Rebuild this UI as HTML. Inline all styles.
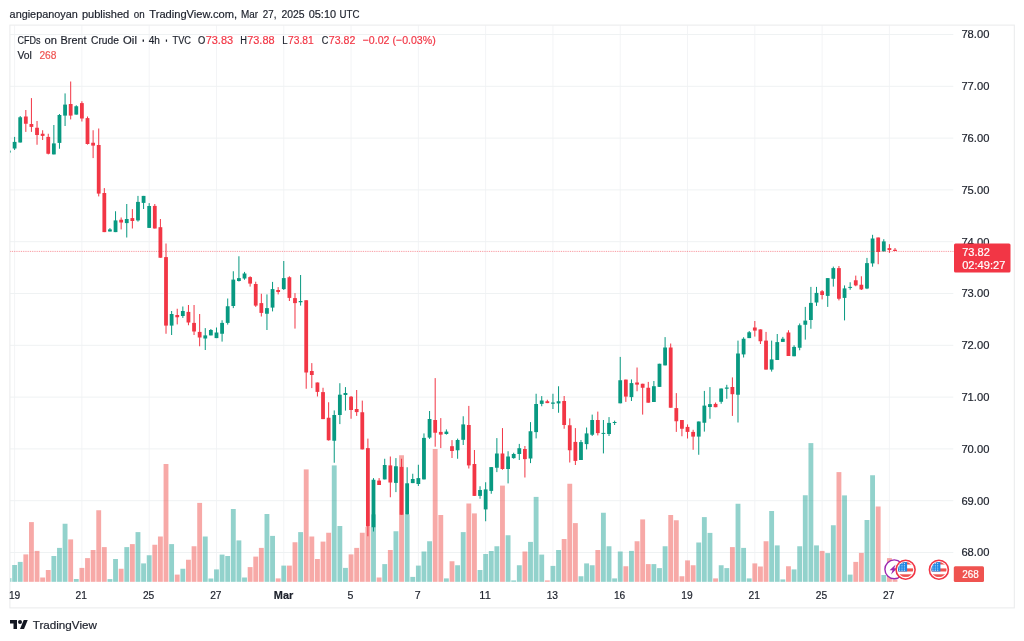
<!DOCTYPE html>
<html lang="en"><head><meta charset="utf-8"><title>CFDs on Brent Crude Oil</title>
<style>html,body{margin:0;padding:0;background:#fff;}svg{display:block;}text{font-family:"Liberation Sans",Arial,sans-serif;stroke-width:.2px;}.d{fill:#1c202b;stroke:#1c202b;}.r{fill:#f23645;stroke:#f23645;}.w{fill:#fff;stroke:#fff;}.v{fill:#ef5350;stroke:#ef5350;}</style></head><body>
<svg width="1024" height="641" viewBox="0 0 1024 641">
<rect width="1024" height="641" fill="#fff"/>
<defs><clipPath id="plot"><rect x="10.25" y="25.50" width="943.25" height="556.70"/></clipPath>
<clipPath id="f1"><circle cx="905.6" cy="569.7" r="7.6"/></clipPath><clipPath id="f2"><circle cx="938.9" cy="569.7" r="7.6"/></clipPath></defs>
<g stroke="#eff2f3" stroke-width="1"><line x1="14.60" y1="25.5" x2="14.60" y2="582" stroke="#f3f4f6"/><line x1="81.89" y1="25.5" x2="81.89" y2="582" stroke="#f3f4f6"/><line x1="149.18" y1="25.5" x2="149.18" y2="582" stroke="#f3f4f6"/><line x1="216.48" y1="25.5" x2="216.48" y2="582" stroke="#f3f4f6"/><line x1="283.77" y1="25.5" x2="283.77" y2="582" stroke="#f3f4f6"/><line x1="351.06" y1="25.5" x2="351.06" y2="582" stroke="#f3f4f6"/><line x1="418.35" y1="25.5" x2="418.35" y2="582" stroke="#f3f4f6"/><line x1="485.65" y1="25.5" x2="485.65" y2="582" stroke="#f3f4f6"/><line x1="552.94" y1="25.5" x2="552.94" y2="582" stroke="#f3f4f6"/><line x1="620.23" y1="25.5" x2="620.23" y2="582" stroke="#f3f4f6"/><line x1="687.52" y1="25.5" x2="687.52" y2="582" stroke="#f3f4f6"/><line x1="754.82" y1="25.5" x2="754.82" y2="582" stroke="#f3f4f6"/><line x1="822.11" y1="25.5" x2="822.11" y2="582" stroke="#f3f4f6"/><line x1="889.40" y1="25.5" x2="889.40" y2="582" stroke="#f3f4f6"/><line x1="10.2" y1="552.50" x2="953.3" y2="552.50"/><line x1="10.2" y1="500.70" x2="953.3" y2="500.70"/><line x1="10.2" y1="448.90" x2="953.3" y2="448.90"/><line x1="10.2" y1="397.10" x2="953.3" y2="397.10"/><line x1="10.2" y1="345.30" x2="953.3" y2="345.30"/><line x1="10.2" y1="293.50" x2="953.3" y2="293.50"/><line x1="10.2" y1="241.70" x2="953.3" y2="241.70"/><line x1="10.2" y1="189.90" x2="953.3" y2="189.90"/><line x1="10.2" y1="138.10" x2="953.3" y2="138.10"/><line x1="10.2" y1="86.30" x2="953.3" y2="86.30"/><line x1="10.2" y1="34.50" x2="953.3" y2="34.50"/></g>
<rect x="9.9" y="25.1" width="1004.4" height="582.8" fill="none" stroke="#e9eaec" stroke-width="1"/>
<g clip-path="url(#plot)"><rect x="6.57" y="578.1" width="4.85" height="3.70" fill="rgba(38,166,154,0.5)"/><rect x="12.18" y="565.00" width="4.85" height="16.80" fill="rgba(38,166,154,0.5)"/><rect x="17.78" y="561.90" width="4.85" height="19.90" fill="rgba(38,166,154,0.5)"/><rect x="23.39" y="554.40" width="4.85" height="27.40" fill="rgba(239,83,80,0.5)"/><rect x="29.00" y="522.10" width="4.85" height="59.70" fill="rgba(239,83,80,0.5)"/><rect x="34.61" y="550.90" width="4.85" height="30.90" fill="rgba(239,83,80,0.5)"/><rect x="40.21" y="577.50" width="4.85" height="4.30" fill="rgba(239,83,80,0.5)"/><rect x="45.82" y="570.00" width="4.85" height="11.80" fill="rgba(239,83,80,0.5)"/><rect x="51.43" y="556.00" width="4.85" height="25.80" fill="rgba(38,166,154,0.5)"/><rect x="57.04" y="547.90" width="4.85" height="33.90" fill="rgba(38,166,154,0.5)"/><rect x="62.64" y="523.75" width="4.85" height="58.05" fill="rgba(38,166,154,0.5)"/><rect x="68.25" y="539.40" width="4.85" height="42.40" fill="rgba(239,83,80,0.5)"/><rect x="73.86" y="579.00" width="4.85" height="2.80" fill="rgba(38,166,154,0.5)"/><rect x="79.47" y="567.90" width="4.85" height="13.90" fill="rgba(239,83,80,0.5)"/><rect x="85.08" y="558.10" width="4.85" height="23.70" fill="rgba(239,83,80,0.5)"/><rect x="90.68" y="550.00" width="4.85" height="31.80" fill="rgba(239,83,80,0.5)"/><rect x="96.29" y="510.25" width="4.85" height="71.55" fill="rgba(239,83,80,0.5)"/><rect x="101.90" y="547.10" width="4.85" height="34.70" fill="rgba(239,83,80,0.5)"/><rect x="107.51" y="579.10" width="4.85" height="2.70" fill="rgba(38,166,154,0.5)"/><rect x="113.11" y="559.00" width="4.85" height="22.80" fill="rgba(38,166,154,0.5)"/><rect x="118.72" y="568.75" width="4.85" height="13.05" fill="rgba(239,83,80,0.5)"/><rect x="124.33" y="547.10" width="4.85" height="34.70" fill="rgba(38,166,154,0.5)"/><rect x="129.94" y="544.10" width="4.85" height="37.70" fill="rgba(239,83,80,0.5)"/><rect x="135.54" y="532.10" width="4.85" height="49.70" fill="rgba(38,166,154,0.5)"/><rect x="141.15" y="563.40" width="4.85" height="18.40" fill="rgba(38,166,154,0.5)"/><rect x="146.76" y="555.25" width="4.85" height="26.55" fill="rgba(38,166,154,0.5)"/><rect x="152.37" y="544.75" width="4.85" height="37.05" fill="rgba(239,83,80,0.5)"/><rect x="157.98" y="536.50" width="4.85" height="45.30" fill="rgba(239,83,80,0.5)"/><rect x="163.58" y="464.00" width="4.85" height="117.80" fill="rgba(239,83,80,0.5)"/><rect x="169.19" y="544.10" width="4.85" height="37.70" fill="rgba(38,166,154,0.5)"/><rect x="174.80" y="574.60" width="4.85" height="7.20" fill="rgba(239,83,80,0.5)"/><rect x="180.41" y="568.75" width="4.85" height="13.05" fill="rgba(38,166,154,0.5)"/><rect x="186.01" y="559.75" width="4.85" height="22.05" fill="rgba(239,83,80,0.5)"/><rect x="191.62" y="546.25" width="4.85" height="35.55" fill="rgba(239,83,80,0.5)"/><rect x="197.23" y="502.90" width="4.85" height="78.90" fill="rgba(239,83,80,0.5)"/><rect x="202.84" y="536.50" width="4.85" height="45.30" fill="rgba(38,166,154,0.5)"/><rect x="208.44" y="578.50" width="4.85" height="3.30" fill="rgba(38,166,154,0.5)"/><rect x="214.05" y="569.40" width="4.85" height="12.40" fill="rgba(38,166,154,0.5)"/><rect x="219.66" y="554.60" width="4.85" height="27.20" fill="rgba(38,166,154,0.5)"/><rect x="225.27" y="556.00" width="4.85" height="25.80" fill="rgba(38,166,154,0.5)"/><rect x="230.88" y="509.00" width="4.85" height="72.80" fill="rgba(38,166,154,0.5)"/><rect x="236.48" y="540.40" width="4.85" height="41.40" fill="rgba(38,166,154,0.5)"/><rect x="242.09" y="577.50" width="4.85" height="4.30" fill="rgba(38,166,154,0.5)"/><rect x="247.70" y="567.10" width="4.85" height="14.70" fill="rgba(239,83,80,0.5)"/><rect x="253.31" y="556.60" width="4.85" height="25.20" fill="rgba(239,83,80,0.5)"/><rect x="258.91" y="547.90" width="4.85" height="33.90" fill="rgba(239,83,80,0.5)"/><rect x="264.52" y="514.00" width="4.85" height="67.80" fill="rgba(38,166,154,0.5)"/><rect x="270.13" y="535.90" width="4.85" height="45.90" fill="rgba(38,166,154,0.5)"/><rect x="275.74" y="578.40" width="4.85" height="3.40" fill="rgba(239,83,80,0.5)"/><rect x="281.34" y="565.60" width="4.85" height="16.20" fill="rgba(38,166,154,0.5)"/><rect x="286.95" y="565.60" width="4.85" height="16.20" fill="rgba(239,83,80,0.5)"/><rect x="292.56" y="542.25" width="4.85" height="39.55" fill="rgba(239,83,80,0.5)"/><rect x="298.17" y="532.10" width="4.85" height="49.70" fill="rgba(38,166,154,0.5)"/><rect x="303.78" y="469.40" width="4.85" height="112.40" fill="rgba(239,83,80,0.5)"/><rect x="309.38" y="536.50" width="4.85" height="45.30" fill="rgba(239,83,80,0.5)"/><rect x="314.99" y="559.00" width="4.85" height="22.80" fill="rgba(239,83,80,0.5)"/><rect x="320.60" y="541.60" width="4.85" height="40.20" fill="rgba(239,83,80,0.5)"/><rect x="326.21" y="532.75" width="4.85" height="49.05" fill="rgba(239,83,80,0.5)"/><rect x="331.81" y="465.40" width="4.85" height="116.40" fill="rgba(38,166,154,0.5)"/><rect x="337.42" y="526.00" width="4.85" height="55.80" fill="rgba(38,166,154,0.5)"/><rect x="343.03" y="567.90" width="4.85" height="13.90" fill="rgba(38,166,154,0.5)"/><rect x="348.64" y="554.40" width="4.85" height="27.40" fill="rgba(239,83,80,0.5)"/><rect x="354.24" y="547.90" width="4.85" height="33.90" fill="rgba(239,83,80,0.5)"/><rect x="359.85" y="532.75" width="4.85" height="49.05" fill="rgba(239,83,80,0.5)"/><rect x="365.46" y="526.90" width="4.85" height="54.90" fill="rgba(239,83,80,0.5)"/><rect x="371.07" y="514.40" width="4.85" height="67.40" fill="rgba(38,166,154,0.5)"/><rect x="376.68" y="577.50" width="4.85" height="4.30" fill="rgba(239,83,80,0.5)"/><rect x="382.28" y="564.10" width="4.85" height="17.70" fill="rgba(38,166,154,0.5)"/><rect x="387.89" y="550.00" width="4.85" height="31.80" fill="rgba(239,83,80,0.5)"/><rect x="393.50" y="531.25" width="4.85" height="50.55" fill="rgba(38,166,154,0.5)"/><rect x="399.11" y="455.25" width="4.85" height="126.55" fill="rgba(239,83,80,0.5)"/><rect x="404.71" y="514.40" width="4.85" height="67.40" fill="rgba(38,166,154,0.5)"/><rect x="410.32" y="576.90" width="4.85" height="4.90" fill="rgba(38,166,154,0.5)"/><rect x="415.93" y="565.60" width="4.85" height="16.20" fill="rgba(38,166,154,0.5)"/><rect x="421.54" y="551.50" width="4.85" height="30.30" fill="rgba(38,166,154,0.5)"/><rect x="427.14" y="541.25" width="4.85" height="40.55" fill="rgba(38,166,154,0.5)"/><rect x="432.75" y="449.00" width="4.85" height="132.80" fill="rgba(239,83,80,0.5)"/><rect x="438.36" y="515.00" width="4.85" height="66.80" fill="rgba(239,83,80,0.5)"/><rect x="443.97" y="578.40" width="4.85" height="3.40" fill="rgba(38,166,154,0.5)"/><rect x="449.58" y="561.25" width="4.85" height="20.55" fill="rgba(239,83,80,0.5)"/><rect x="455.18" y="565.25" width="4.85" height="16.55" fill="rgba(38,166,154,0.5)"/><rect x="460.79" y="532.10" width="4.85" height="49.70" fill="rgba(38,166,154,0.5)"/><rect x="466.40" y="503.50" width="4.85" height="78.30" fill="rgba(239,83,80,0.5)"/><rect x="472.01" y="513.40" width="4.85" height="68.40" fill="rgba(239,83,80,0.5)"/><rect x="477.61" y="570.00" width="4.85" height="11.80" fill="rgba(38,166,154,0.5)"/><rect x="483.22" y="554.00" width="4.85" height="27.80" fill="rgba(38,166,154,0.5)"/><rect x="488.83" y="551.00" width="4.85" height="30.80" fill="rgba(38,166,154,0.5)"/><rect x="494.44" y="546.25" width="4.85" height="35.55" fill="rgba(38,166,154,0.5)"/><rect x="500.04" y="485.60" width="4.85" height="96.20" fill="rgba(239,83,80,0.5)"/><rect x="505.65" y="535.25" width="4.85" height="46.55" fill="rgba(38,166,154,0.5)"/><rect x="511.26" y="580.40" width="4.85" height="1.40" fill="rgba(38,166,154,0.5)"/><rect x="516.87" y="565.25" width="4.85" height="16.55" fill="rgba(38,166,154,0.5)"/><rect x="522.48" y="551.50" width="4.85" height="30.30" fill="rgba(239,83,80,0.5)"/><rect x="528.08" y="541.90" width="4.85" height="39.90" fill="rgba(38,166,154,0.5)"/><rect x="533.69" y="496.90" width="4.85" height="84.90" fill="rgba(38,166,154,0.5)"/><rect x="539.30" y="554.60" width="4.85" height="27.20" fill="rgba(38,166,154,0.5)"/><rect x="544.91" y="580.40" width="4.85" height="1.40" fill="rgba(239,83,80,0.5)"/><rect x="550.51" y="565.90" width="4.85" height="15.90" fill="rgba(38,166,154,0.5)"/><rect x="556.12" y="550.00" width="4.85" height="31.80" fill="rgba(38,166,154,0.5)"/><rect x="561.73" y="539.00" width="4.85" height="42.80" fill="rgba(239,83,80,0.5)"/><rect x="567.34" y="483.75" width="4.85" height="98.05" fill="rgba(239,83,80,0.5)"/><rect x="572.95" y="523.10" width="4.85" height="58.70" fill="rgba(239,83,80,0.5)"/><rect x="578.55" y="576.25" width="4.85" height="5.55" fill="rgba(38,166,154,0.5)"/><rect x="584.16" y="563.40" width="4.85" height="18.40" fill="rgba(38,166,154,0.5)"/><rect x="589.77" y="565.25" width="4.85" height="16.55" fill="rgba(38,166,154,0.5)"/><rect x="595.38" y="550.00" width="4.85" height="31.80" fill="rgba(239,83,80,0.5)"/><rect x="600.98" y="512.75" width="4.85" height="69.05" fill="rgba(38,166,154,0.5)"/><rect x="606.59" y="546.25" width="4.85" height="35.55" fill="rgba(38,166,154,0.5)"/><rect x="612.20" y="578.40" width="4.85" height="3.40" fill="rgba(38,166,154,0.5)"/><rect x="617.81" y="551.50" width="4.85" height="30.30" fill="rgba(38,166,154,0.5)"/><rect x="623.41" y="566.25" width="4.85" height="15.55" fill="rgba(239,83,80,0.5)"/><rect x="629.02" y="550.90" width="4.85" height="30.90" fill="rgba(38,166,154,0.5)"/><rect x="634.63" y="541.25" width="4.85" height="40.55" fill="rgba(239,83,80,0.5)"/><rect x="640.24" y="519.40" width="4.85" height="62.40" fill="rgba(239,83,80,0.5)"/><rect x="645.85" y="564.10" width="4.85" height="17.70" fill="rgba(239,83,80,0.5)"/><rect x="651.45" y="564.10" width="4.85" height="17.70" fill="rgba(38,166,154,0.5)"/><rect x="657.06" y="568.10" width="4.85" height="13.70" fill="rgba(38,166,154,0.5)"/><rect x="662.67" y="546.25" width="4.85" height="35.55" fill="rgba(38,166,154,0.5)"/><rect x="668.28" y="515.00" width="4.85" height="66.80" fill="rgba(239,83,80,0.5)"/><rect x="673.88" y="520.25" width="4.85" height="61.55" fill="rgba(239,83,80,0.5)"/><rect x="679.49" y="576.25" width="4.85" height="5.55" fill="rgba(239,83,80,0.5)"/><rect x="685.10" y="560.40" width="4.85" height="21.40" fill="rgba(239,83,80,0.5)"/><rect x="690.71" y="565.25" width="4.85" height="16.55" fill="rgba(239,83,80,0.5)"/><rect x="696.31" y="542.50" width="4.85" height="39.30" fill="rgba(38,166,154,0.5)"/><rect x="701.92" y="517.10" width="4.85" height="64.70" fill="rgba(38,166,154,0.5)"/><rect x="707.53" y="532.90" width="4.85" height="48.90" fill="rgba(38,166,154,0.5)"/><rect x="713.14" y="578.40" width="4.85" height="3.40" fill="rgba(239,83,80,0.5)"/><rect x="718.75" y="565.25" width="4.85" height="16.55" fill="rgba(38,166,154,0.5)"/><rect x="724.35" y="568.10" width="4.85" height="13.70" fill="rgba(38,166,154,0.5)"/><rect x="729.96" y="547.10" width="4.85" height="34.70" fill="rgba(239,83,80,0.5)"/><rect x="735.57" y="503.75" width="4.85" height="78.05" fill="rgba(38,166,154,0.5)"/><rect x="741.18" y="547.90" width="4.85" height="33.90" fill="rgba(38,166,154,0.5)"/><rect x="746.78" y="578.40" width="4.85" height="3.40" fill="rgba(38,166,154,0.5)"/><rect x="752.39" y="563.40" width="4.85" height="18.40" fill="rgba(239,83,80,0.5)"/><rect x="758.00" y="566.50" width="4.85" height="15.30" fill="rgba(239,83,80,0.5)"/><rect x="763.61" y="541.25" width="4.85" height="40.55" fill="rgba(239,83,80,0.5)"/><rect x="769.21" y="511.00" width="4.85" height="70.80" fill="rgba(38,166,154,0.5)"/><rect x="774.82" y="545.40" width="4.85" height="36.40" fill="rgba(38,166,154,0.5)"/><rect x="780.43" y="579.40" width="4.85" height="2.40" fill="rgba(38,166,154,0.5)"/><rect x="786.04" y="566.25" width="4.85" height="15.55" fill="rgba(239,83,80,0.5)"/><rect x="791.65" y="569.40" width="4.85" height="12.40" fill="rgba(38,166,154,0.5)"/><rect x="797.25" y="546.25" width="4.85" height="35.55" fill="rgba(38,166,154,0.5)"/><rect x="802.86" y="495.25" width="4.85" height="86.55" fill="rgba(38,166,154,0.5)"/><rect x="808.47" y="443.10" width="4.85" height="138.70" fill="rgba(38,166,154,0.5)"/><rect x="814.08" y="545.40" width="4.85" height="36.40" fill="rgba(38,166,154,0.5)"/><rect x="819.68" y="550.90" width="4.85" height="30.90" fill="rgba(239,83,80,0.5)"/><rect x="825.29" y="553.10" width="4.85" height="28.70" fill="rgba(38,166,154,0.5)"/><rect x="830.90" y="525.25" width="4.85" height="56.55" fill="rgba(38,166,154,0.5)"/><rect x="836.51" y="472.10" width="4.85" height="109.70" fill="rgba(239,83,80,0.5)"/><rect x="842.11" y="495.40" width="4.85" height="86.40" fill="rgba(38,166,154,0.5)"/><rect x="847.72" y="574.60" width="4.85" height="7.20" fill="rgba(38,166,154,0.5)"/><rect x="853.33" y="561.90" width="4.85" height="19.90" fill="rgba(239,83,80,0.5)"/><rect x="858.94" y="552.90" width="4.85" height="28.90" fill="rgba(239,83,80,0.5)"/><rect x="864.55" y="520.00" width="4.85" height="61.80" fill="rgba(38,166,154,0.5)"/><rect x="870.15" y="475.25" width="4.85" height="106.55" fill="rgba(38,166,154,0.5)"/><rect x="875.76" y="506.50" width="4.85" height="75.30" fill="rgba(239,83,80,0.5)"/><rect x="881.37" y="575.00" width="4.85" height="6.80" fill="rgba(38,166,154,0.5)"/><rect x="886.98" y="558.10" width="4.85" height="23.70" fill="rgba(239,83,80,0.5)"/><rect x="892.58" y="579.40" width="4.85" height="2.40" fill="rgba(239,83,80,0.5)"/></g>
<g clip-path="url(#plot)"><rect x="7.09" y="150.6" width="3.80" height="2" fill="#089981"/><rect x="14.10" y="136.90" width="1.00" height="13.10" fill="#089981"/><rect x="12.70" y="141.90" width="3.80" height="6.60" fill="#089981"/><rect x="19.71" y="116.00" width="1.00" height="26.50" fill="#089981"/><rect x="18.31" y="117.25" width="3.80" height="25.25" fill="#089981"/><rect x="25.32" y="110.00" width="1.00" height="21.90" fill="#f23645"/><rect x="23.92" y="116.50" width="3.80" height="7.25" fill="#f23645"/><rect x="30.92" y="98.10" width="1.00" height="33.80" fill="#f23645"/><rect x="29.52" y="124.00" width="3.80" height="2.90" fill="#f23645"/><rect x="36.53" y="121.00" width="1.00" height="23.75" fill="#f23645"/><rect x="35.13" y="127.75" width="3.80" height="7.25" fill="#f23645"/><rect x="42.14" y="130.25" width="1.00" height="9.75" fill="#f23645"/><rect x="40.74" y="133.75" width="3.80" height="2.15" fill="#f23645"/><rect x="47.75" y="133.75" width="1.00" height="20.65" fill="#f23645"/><rect x="46.35" y="136.90" width="3.80" height="16.85" fill="#f23645"/><rect x="53.35" y="125.00" width="1.00" height="29.40" fill="#089981"/><rect x="51.95" y="143.40" width="3.80" height="11.00" fill="#089981"/><rect x="58.96" y="114.00" width="1.00" height="34.75" fill="#089981"/><rect x="57.56" y="115.00" width="3.80" height="27.90" fill="#089981"/><rect x="64.57" y="93.40" width="1.00" height="32.60" fill="#089981"/><rect x="63.17" y="104.60" width="3.80" height="11.00" fill="#089981"/><rect x="70.18" y="81.50" width="1.00" height="37.90" fill="#f23645"/><rect x="68.78" y="104.00" width="3.80" height="11.60" fill="#f23645"/><rect x="75.78" y="105.25" width="1.00" height="9.35" fill="#089981"/><rect x="74.38" y="106.25" width="3.80" height="8.35" fill="#089981"/><rect x="81.39" y="101.25" width="1.00" height="20.25" fill="#f23645"/><rect x="79.99" y="103.10" width="3.80" height="15.40" fill="#f23645"/><rect x="87.00" y="116.50" width="1.00" height="28.10" fill="#f23645"/><rect x="85.60" y="118.10" width="3.80" height="25.90" fill="#f23645"/><rect x="92.61" y="130.25" width="1.00" height="27.85" fill="#f23645"/><rect x="91.21" y="142.75" width="3.80" height="2.85" fill="#f23645"/><rect x="98.22" y="128.50" width="1.00" height="67.90" fill="#f23645"/><rect x="96.82" y="145.00" width="3.80" height="48.60" fill="#f23645"/><rect x="103.82" y="188.10" width="1.00" height="44.00" fill="#f23645"/><rect x="102.42" y="193.00" width="3.80" height="39.10" fill="#f23645"/><rect x="109.43" y="228.10" width="1.00" height="3.40" fill="#089981"/><rect x="108.03" y="229.40" width="3.80" height="2.10" fill="#089981"/><rect x="115.04" y="211.25" width="1.00" height="20.85" fill="#089981"/><rect x="113.64" y="220.40" width="3.80" height="11.70" fill="#089981"/><rect x="120.65" y="217.50" width="1.00" height="11.90" fill="#f23645"/><rect x="119.25" y="219.75" width="3.80" height="2.75" fill="#f23645"/><rect x="126.25" y="204.00" width="1.00" height="33.50" fill="#089981"/><rect x="124.85" y="219.00" width="3.80" height="4.10" fill="#089981"/><rect x="131.86" y="209.10" width="1.00" height="19.40" fill="#f23645"/><rect x="130.46" y="218.10" width="3.80" height="2.90" fill="#f23645"/><rect x="137.47" y="195.90" width="1.00" height="25.70" fill="#089981"/><rect x="136.07" y="201.90" width="3.80" height="18.50" fill="#089981"/><rect x="143.08" y="195.90" width="1.00" height="13.10" fill="#089981"/><rect x="141.68" y="195.90" width="3.80" height="7.00" fill="#089981"/><rect x="148.68" y="203.10" width="1.00" height="24.80" fill="#089981"/><rect x="147.28" y="206.00" width="3.80" height="21.90" fill="#089981"/><rect x="154.29" y="204.00" width="1.00" height="24.50" fill="#f23645"/><rect x="152.89" y="205.90" width="3.80" height="22.60" fill="#f23645"/><rect x="159.90" y="219.00" width="1.00" height="38.75" fill="#f23645"/><rect x="158.50" y="227.20" width="3.80" height="30.55" fill="#f23645"/><rect x="165.51" y="243.50" width="1.00" height="90.25" fill="#f23645"/><rect x="164.11" y="257.10" width="3.80" height="68.50" fill="#f23645"/><rect x="171.12" y="311.00" width="1.00" height="24.00" fill="#089981"/><rect x="169.72" y="314.00" width="3.80" height="11.60" fill="#089981"/><rect x="176.72" y="308.75" width="1.00" height="15.65" fill="#f23645"/><rect x="175.32" y="315.00" width="3.80" height="2.25" fill="#f23645"/><rect x="182.33" y="306.50" width="1.00" height="11.40" fill="#089981"/><rect x="180.93" y="311.00" width="3.80" height="5.00" fill="#089981"/><rect x="187.94" y="305.00" width="1.00" height="20.25" fill="#f23645"/><rect x="186.54" y="311.90" width="3.80" height="10.60" fill="#f23645"/><rect x="193.55" y="305.00" width="1.00" height="30.00" fill="#f23645"/><rect x="192.15" y="322.90" width="3.80" height="8.60" fill="#f23645"/><rect x="199.15" y="314.00" width="1.00" height="32.25" fill="#f23645"/><rect x="197.75" y="331.90" width="3.80" height="5.60" fill="#f23645"/><rect x="204.76" y="328.10" width="1.00" height="21.90" fill="#089981"/><rect x="203.36" y="335.40" width="3.80" height="3.10" fill="#089981"/><rect x="210.37" y="329.00" width="1.00" height="6.40" fill="#089981"/><rect x="208.97" y="330.00" width="3.80" height="5.40" fill="#089981"/><rect x="215.98" y="327.50" width="1.00" height="10.60" fill="#089981"/><rect x="214.58" y="332.50" width="3.80" height="5.60" fill="#089981"/><rect x="221.58" y="320.25" width="1.00" height="21.35" fill="#089981"/><rect x="220.18" y="322.90" width="3.80" height="10.85" fill="#089981"/><rect x="227.19" y="298.50" width="1.00" height="26.10" fill="#089981"/><rect x="225.79" y="306.25" width="3.80" height="16.65" fill="#089981"/><rect x="232.80" y="271.25" width="1.00" height="36.85" fill="#089981"/><rect x="231.40" y="279.60" width="3.80" height="26.40" fill="#089981"/><rect x="238.41" y="256.25" width="1.00" height="25.25" fill="#089981"/><rect x="237.01" y="278.10" width="3.80" height="2.90" fill="#089981"/><rect x="244.02" y="271.90" width="1.00" height="7.85" fill="#089981"/><rect x="242.62" y="273.50" width="3.80" height="5.00" fill="#089981"/><rect x="249.62" y="276.25" width="1.00" height="10.35" fill="#f23645"/><rect x="248.22" y="277.10" width="3.80" height="6.50" fill="#f23645"/><rect x="255.23" y="281.70" width="1.00" height="25.20" fill="#f23645"/><rect x="253.83" y="284.00" width="3.80" height="21.60" fill="#f23645"/><rect x="260.84" y="293.75" width="1.00" height="22.75" fill="#f23645"/><rect x="259.44" y="303.10" width="3.80" height="9.80" fill="#f23645"/><rect x="266.45" y="294.40" width="1.00" height="35.60" fill="#089981"/><rect x="265.05" y="308.10" width="3.80" height="5.65" fill="#089981"/><rect x="272.05" y="281.90" width="1.00" height="29.50" fill="#089981"/><rect x="270.65" y="289.10" width="3.80" height="18.50" fill="#089981"/><rect x="277.66" y="287.10" width="1.00" height="7.30" fill="#f23645"/><rect x="276.26" y="290.00" width="3.80" height="2.00" fill="#f23645"/><rect x="283.27" y="261.00" width="1.00" height="29.00" fill="#089981"/><rect x="281.87" y="278.10" width="3.80" height="11.00" fill="#089981"/><rect x="288.88" y="276.25" width="1.00" height="24.75" fill="#f23645"/><rect x="287.48" y="277.25" width="3.80" height="20.65" fill="#f23645"/><rect x="294.49" y="293.10" width="1.00" height="35.50" fill="#f23645"/><rect x="293.09" y="298.10" width="3.80" height="5.00" fill="#f23645"/><rect x="300.09" y="275.00" width="1.00" height="30.60" fill="#089981"/><rect x="298.69" y="301.00" width="3.80" height="1.25" fill="#089981"/><rect x="305.70" y="300.25" width="1.00" height="88.50" fill="#f23645"/><rect x="304.30" y="300.25" width="3.80" height="72.25" fill="#f23645"/><rect x="311.31" y="363.10" width="1.00" height="25.00" fill="#f23645"/><rect x="309.91" y="371.00" width="3.80" height="4.00" fill="#f23645"/><rect x="316.92" y="382.50" width="1.00" height="14.00" fill="#f23645"/><rect x="315.52" y="382.50" width="3.80" height="9.40" fill="#f23645"/><rect x="322.52" y="387.75" width="1.00" height="31.35" fill="#f23645"/><rect x="321.12" y="392.10" width="3.80" height="27.00" fill="#f23645"/><rect x="328.13" y="402.25" width="1.00" height="38.35" fill="#f23645"/><rect x="326.73" y="417.75" width="3.80" height="22.50" fill="#f23645"/><rect x="333.74" y="410.40" width="1.00" height="52.35" fill="#089981"/><rect x="332.34" y="415.00" width="3.80" height="25.75" fill="#089981"/><rect x="339.35" y="383.20" width="1.00" height="40.90" fill="#089981"/><rect x="337.95" y="394.70" width="3.80" height="20.30" fill="#089981"/><rect x="344.95" y="387.10" width="1.00" height="23.50" fill="#089981"/><rect x="343.55" y="393.00" width="3.80" height="2.00" fill="#089981"/><rect x="350.56" y="396.00" width="1.00" height="22.75" fill="#f23645"/><rect x="349.16" y="396.70" width="3.80" height="13.30" fill="#f23645"/><rect x="356.17" y="390.00" width="1.00" height="25.90" fill="#f23645"/><rect x="354.77" y="409.00" width="3.80" height="3.10" fill="#f23645"/><rect x="361.78" y="400.60" width="1.00" height="48.80" fill="#f23645"/><rect x="360.38" y="412.25" width="3.80" height="37.15" fill="#f23645"/><rect x="367.39" y="438.60" width="1.00" height="97.65" fill="#f23645"/><rect x="365.99" y="448.10" width="3.80" height="78.40" fill="#f23645"/><rect x="372.99" y="478.10" width="1.00" height="53.40" fill="#089981"/><rect x="371.59" y="479.75" width="3.80" height="47.50" fill="#089981"/><rect x="378.60" y="478.10" width="1.00" height="6.90" fill="#f23645"/><rect x="377.20" y="480.60" width="3.80" height="4.40" fill="#f23645"/><rect x="384.21" y="458.75" width="1.00" height="20.65" fill="#089981"/><rect x="382.81" y="465.00" width="3.80" height="14.40" fill="#089981"/><rect x="389.82" y="456.50" width="1.00" height="40.75" fill="#f23645"/><rect x="388.42" y="465.40" width="3.80" height="17.10" fill="#f23645"/><rect x="395.42" y="458.10" width="1.00" height="34.00" fill="#089981"/><rect x="394.02" y="466.25" width="3.80" height="16.65" fill="#089981"/><rect x="401.03" y="458.75" width="1.00" height="56.00" fill="#f23645"/><rect x="399.63" y="466.90" width="3.80" height="47.85" fill="#f23645"/><rect x="406.64" y="467.25" width="1.00" height="47.15" fill="#089981"/><rect x="405.24" y="483.30" width="3.80" height="31.10" fill="#089981"/><rect x="412.25" y="473.75" width="1.00" height="9.35" fill="#089981"/><rect x="410.85" y="479.00" width="3.80" height="4.10" fill="#089981"/><rect x="417.85" y="464.75" width="1.00" height="21.25" fill="#089981"/><rect x="416.45" y="478.10" width="3.80" height="5.90" fill="#089981"/><rect x="423.46" y="433.40" width="1.00" height="46.00" fill="#089981"/><rect x="422.06" y="437.90" width="3.80" height="41.50" fill="#089981"/><rect x="429.07" y="411.00" width="1.00" height="27.90" fill="#089981"/><rect x="427.67" y="419.00" width="3.80" height="18.60" fill="#089981"/><rect x="434.68" y="378.10" width="1.00" height="68.60" fill="#f23645"/><rect x="433.28" y="420.00" width="3.80" height="12.75" fill="#f23645"/><rect x="440.29" y="418.10" width="1.00" height="30.00" fill="#f23645"/><rect x="438.89" y="431.90" width="3.80" height="2.70" fill="#f23645"/><rect x="445.89" y="429.40" width="1.00" height="5.20" fill="#089981"/><rect x="444.49" y="431.60" width="3.80" height="2.40" fill="#089981"/><rect x="451.50" y="440.10" width="1.00" height="17.90" fill="#f23645"/><rect x="450.10" y="446.20" width="3.80" height="4.80" fill="#f23645"/><rect x="457.11" y="438.60" width="1.00" height="20.15" fill="#089981"/><rect x="455.71" y="440.00" width="3.80" height="10.25" fill="#089981"/><rect x="462.72" y="416.25" width="1.00" height="28.75" fill="#089981"/><rect x="461.32" y="424.40" width="3.80" height="15.40" fill="#089981"/><rect x="468.32" y="405.90" width="1.00" height="62.60" fill="#f23645"/><rect x="466.92" y="425.00" width="3.80" height="40.40" fill="#f23645"/><rect x="473.93" y="450.00" width="1.00" height="45.90" fill="#f23645"/><rect x="472.53" y="464.00" width="3.80" height="31.90" fill="#f23645"/><rect x="479.54" y="486.25" width="1.00" height="12.50" fill="#089981"/><rect x="478.14" y="490.00" width="3.80" height="5.90" fill="#089981"/><rect x="485.15" y="482.25" width="1.00" height="39.00" fill="#089981"/><rect x="483.75" y="489.40" width="3.80" height="20.00" fill="#089981"/><rect x="490.75" y="467.10" width="1.00" height="26.65" fill="#089981"/><rect x="489.35" y="467.10" width="3.80" height="23.80" fill="#089981"/><rect x="496.36" y="438.10" width="1.00" height="34.00" fill="#089981"/><rect x="494.96" y="453.50" width="3.80" height="14.25" fill="#089981"/><rect x="501.97" y="428.10" width="1.00" height="41.65" fill="#f23645"/><rect x="500.57" y="453.50" width="3.80" height="15.50" fill="#f23645"/><rect x="507.58" y="451.25" width="1.00" height="32.15" fill="#089981"/><rect x="506.18" y="456.50" width="3.80" height="12.50" fill="#089981"/><rect x="513.19" y="452.75" width="1.00" height="6.00" fill="#089981"/><rect x="511.79" y="454.00" width="3.80" height="4.10" fill="#089981"/><rect x="518.79" y="443.90" width="1.00" height="16.10" fill="#089981"/><rect x="517.39" y="448.20" width="3.80" height="5.80" fill="#089981"/><rect x="524.40" y="446.00" width="1.00" height="31.50" fill="#f23645"/><rect x="523.00" y="449.00" width="3.80" height="10.10" fill="#f23645"/><rect x="530.01" y="422.10" width="1.00" height="41.00" fill="#089981"/><rect x="528.61" y="431.25" width="3.80" height="27.25" fill="#089981"/><rect x="535.62" y="393.75" width="1.00" height="44.65" fill="#089981"/><rect x="534.22" y="404.00" width="3.80" height="28.10" fill="#089981"/><rect x="541.22" y="396.10" width="1.00" height="10.15" fill="#089981"/><rect x="539.82" y="400.50" width="3.80" height="3.40" fill="#089981"/><rect x="546.83" y="399.75" width="1.00" height="3.35" fill="#f23645"/><rect x="545.43" y="401.25" width="3.80" height="1.85" fill="#f23645"/><rect x="552.44" y="393.75" width="1.00" height="15.25" fill="#089981"/><rect x="551.04" y="402.50" width="3.80" height="1.25" fill="#089981"/><rect x="558.05" y="386.25" width="1.00" height="26.50" fill="#089981"/><rect x="556.65" y="401.25" width="3.80" height="2.15" fill="#089981"/><rect x="563.65" y="396.00" width="1.00" height="32.75" fill="#f23645"/><rect x="562.25" y="401.00" width="3.80" height="24.00" fill="#f23645"/><rect x="569.26" y="418.40" width="1.00" height="44.10" fill="#f23645"/><rect x="567.86" y="425.25" width="3.80" height="25.00" fill="#f23645"/><rect x="574.87" y="428.10" width="1.00" height="36.90" fill="#f23645"/><rect x="573.47" y="441.90" width="3.80" height="19.00" fill="#f23645"/><rect x="580.48" y="440.00" width="1.00" height="20.00" fill="#089981"/><rect x="579.08" y="442.10" width="3.80" height="17.90" fill="#089981"/><rect x="586.09" y="427.50" width="1.00" height="21.90" fill="#089981"/><rect x="584.69" y="433.40" width="3.80" height="10.70" fill="#089981"/><rect x="591.69" y="414.60" width="1.00" height="21.40" fill="#089981"/><rect x="590.29" y="420.00" width="3.80" height="14.75" fill="#089981"/><rect x="597.30" y="411.60" width="1.00" height="23.80" fill="#f23645"/><rect x="595.90" y="420.00" width="3.80" height="13.10" fill="#f23645"/><rect x="602.91" y="420.00" width="1.00" height="33.40" fill="#089981"/><rect x="601.51" y="432.90" width="3.80" height="1.00" fill="#089981"/><rect x="608.52" y="417.10" width="1.00" height="18.90" fill="#089981"/><rect x="607.12" y="422.90" width="3.80" height="11.10" fill="#089981"/><rect x="614.12" y="420.60" width="1.00" height="4.40" fill="#089981"/><rect x="612.72" y="422.00" width="3.80" height="1.00" fill="#089981"/><rect x="619.73" y="356.90" width="1.00" height="46.40" fill="#089981"/><rect x="618.33" y="380.25" width="3.80" height="23.05" fill="#089981"/><rect x="625.34" y="379.60" width="1.00" height="22.30" fill="#f23645"/><rect x="623.94" y="379.60" width="3.80" height="17.00" fill="#f23645"/><rect x="630.95" y="379.40" width="1.00" height="21.60" fill="#089981"/><rect x="629.55" y="383.10" width="3.80" height="14.00" fill="#089981"/><rect x="636.55" y="367.50" width="1.00" height="23.75" fill="#f23645"/><rect x="635.15" y="382.50" width="3.80" height="2.10" fill="#f23645"/><rect x="642.16" y="383.75" width="1.00" height="30.85" fill="#f23645"/><rect x="640.76" y="383.75" width="3.80" height="4.00" fill="#f23645"/><rect x="647.77" y="381.90" width="1.00" height="20.80" fill="#f23645"/><rect x="646.37" y="387.75" width="3.80" height="14.95" fill="#f23645"/><rect x="653.38" y="381.00" width="1.00" height="21.00" fill="#089981"/><rect x="651.98" y="386.20" width="3.80" height="15.80" fill="#089981"/><rect x="658.99" y="363.75" width="1.00" height="23.15" fill="#089981"/><rect x="657.59" y="363.75" width="3.80" height="23.15" fill="#089981"/><rect x="664.59" y="337.10" width="1.00" height="28.30" fill="#089981"/><rect x="663.19" y="347.50" width="3.80" height="17.90" fill="#089981"/><rect x="670.20" y="343.50" width="1.00" height="64.25" fill="#f23645"/><rect x="668.80" y="347.50" width="3.80" height="60.25" fill="#f23645"/><rect x="675.81" y="393.10" width="1.00" height="38.80" fill="#f23645"/><rect x="674.41" y="408.10" width="3.80" height="13.15" fill="#f23645"/><rect x="681.42" y="420.00" width="1.00" height="16.25" fill="#f23645"/><rect x="680.02" y="420.00" width="3.80" height="8.75" fill="#f23645"/><rect x="687.02" y="424.40" width="1.00" height="14.10" fill="#f23645"/><rect x="685.62" y="426.90" width="3.80" height="5.00" fill="#f23645"/><rect x="692.63" y="429.75" width="1.00" height="20.00" fill="#f23645"/><rect x="691.23" y="431.90" width="3.80" height="4.70" fill="#f23645"/><rect x="698.24" y="421.50" width="1.00" height="33.25" fill="#089981"/><rect x="696.84" y="421.50" width="3.80" height="15.10" fill="#089981"/><rect x="703.85" y="390.90" width="1.00" height="40.70" fill="#089981"/><rect x="702.45" y="405.60" width="3.80" height="17.15" fill="#089981"/><rect x="709.45" y="387.10" width="1.00" height="31.65" fill="#089981"/><rect x="708.05" y="404.10" width="3.80" height="2.90" fill="#089981"/><rect x="715.06" y="402.50" width="1.00" height="4.70" fill="#f23645"/><rect x="713.66" y="403.90" width="3.80" height="3.30" fill="#f23645"/><rect x="720.67" y="388.50" width="1.00" height="15.25" fill="#089981"/><rect x="719.27" y="388.50" width="3.80" height="13.30" fill="#089981"/><rect x="726.28" y="384.80" width="1.00" height="13.95" fill="#089981"/><rect x="724.88" y="387.50" width="3.80" height="1.25" fill="#089981"/><rect x="731.89" y="377.40" width="1.00" height="38.50" fill="#f23645"/><rect x="730.49" y="387.00" width="3.80" height="7.20" fill="#f23645"/><rect x="737.49" y="340.60" width="1.00" height="81.90" fill="#089981"/><rect x="736.09" y="353.50" width="3.80" height="41.25" fill="#089981"/><rect x="743.10" y="337.25" width="1.00" height="20.25" fill="#089981"/><rect x="741.70" y="338.75" width="3.80" height="15.65" fill="#089981"/><rect x="748.71" y="331.00" width="1.00" height="7.10" fill="#089981"/><rect x="747.31" y="332.25" width="3.80" height="5.85" fill="#089981"/><rect x="754.32" y="321.00" width="1.00" height="15.60" fill="#f23645"/><rect x="752.92" y="327.50" width="3.80" height="3.10" fill="#f23645"/><rect x="759.92" y="329.40" width="1.00" height="14.60" fill="#f23645"/><rect x="758.52" y="329.40" width="3.80" height="11.85" fill="#f23645"/><rect x="765.53" y="331.90" width="1.00" height="37.70" fill="#f23645"/><rect x="764.13" y="340.60" width="3.80" height="29.00" fill="#f23645"/><rect x="771.14" y="340.60" width="1.00" height="31.00" fill="#089981"/><rect x="769.74" y="359.40" width="3.80" height="10.20" fill="#089981"/><rect x="776.75" y="334.00" width="1.00" height="26.00" fill="#089981"/><rect x="775.35" y="342.10" width="3.80" height="17.90" fill="#089981"/><rect x="782.35" y="336.90" width="1.00" height="5.00" fill="#089981"/><rect x="780.95" y="338.75" width="3.80" height="3.15" fill="#089981"/><rect x="787.96" y="330.25" width="1.00" height="25.75" fill="#f23645"/><rect x="786.56" y="332.50" width="3.80" height="23.50" fill="#f23645"/><rect x="793.57" y="345.25" width="1.00" height="11.00" fill="#089981"/><rect x="792.17" y="346.90" width="3.80" height="9.35" fill="#089981"/><rect x="799.18" y="323.50" width="1.00" height="26.75" fill="#089981"/><rect x="797.78" y="325.25" width="3.80" height="22.50" fill="#089981"/><rect x="804.79" y="306.90" width="1.00" height="32.70" fill="#089981"/><rect x="803.39" y="320.60" width="3.80" height="4.15" fill="#089981"/><rect x="810.39" y="286.90" width="1.00" height="41.85" fill="#089981"/><rect x="808.99" y="302.90" width="3.80" height="17.10" fill="#089981"/><rect x="816.00" y="286.90" width="1.00" height="19.00" fill="#089981"/><rect x="814.60" y="292.90" width="3.80" height="9.60" fill="#089981"/><rect x="821.61" y="290.00" width="1.00" height="9.40" fill="#f23645"/><rect x="820.21" y="291.25" width="3.80" height="3.75" fill="#f23645"/><rect x="827.22" y="278.10" width="1.00" height="28.80" fill="#089981"/><rect x="825.82" y="278.10" width="3.80" height="17.80" fill="#089981"/><rect x="832.82" y="266.60" width="1.00" height="20.00" fill="#089981"/><rect x="831.42" y="268.10" width="3.80" height="10.65" fill="#089981"/><rect x="838.43" y="266.00" width="1.00" height="34.40" fill="#f23645"/><rect x="837.03" y="268.10" width="3.80" height="30.65" fill="#f23645"/><rect x="844.04" y="285.40" width="1.00" height="35.00" fill="#089981"/><rect x="842.64" y="288.40" width="3.80" height="9.50" fill="#089981"/><rect x="849.65" y="282.25" width="1.00" height="7.50" fill="#089981"/><rect x="848.25" y="286.90" width="3.80" height="1.00" fill="#089981"/><rect x="855.26" y="275.60" width="1.00" height="10.65" fill="#f23645"/><rect x="853.86" y="280.25" width="3.80" height="5.15" fill="#f23645"/><rect x="860.86" y="276.25" width="1.00" height="13.75" fill="#f23645"/><rect x="859.46" y="284.75" width="3.80" height="4.65" fill="#f23645"/><rect x="866.47" y="257.90" width="1.00" height="31.20" fill="#089981"/><rect x="865.07" y="263.10" width="3.80" height="25.40" fill="#089981"/><rect x="872.08" y="234.80" width="1.00" height="31.90" fill="#089981"/><rect x="870.68" y="238.50" width="3.80" height="24.90" fill="#089981"/><rect x="877.69" y="237.50" width="1.00" height="26.70" fill="#f23645"/><rect x="876.29" y="237.50" width="3.80" height="14.50" fill="#f23645"/><rect x="883.29" y="239.20" width="1.00" height="12.20" fill="#089981"/><rect x="881.89" y="241.40" width="3.80" height="10.00" fill="#089981"/><rect x="888.90" y="244.20" width="1.00" height="8.70" fill="#f23645"/><rect x="887.50" y="248.10" width="3.80" height="1.90" fill="#f23645"/><rect x="894.51" y="248.00" width="1.00" height="3.00" fill="#f23645"/><rect x="893.11" y="249.75" width="3.80" height="1.25" fill="#f23645"/></g>
<line x1="10.3" y1="251.4" x2="954" y2="251.4" stroke="#f23645" stroke-width="1" stroke-dasharray="0.9 0.9" opacity="0.55"/>
<g font-size="11.8" class="d"><text x="961.4" y="556.40" textLength="28" lengthAdjust="spacingAndGlyphs">68.00</text><text x="961.4" y="504.60" textLength="28" lengthAdjust="spacingAndGlyphs">69.00</text><text x="961.4" y="452.80" textLength="28" lengthAdjust="spacingAndGlyphs">70.00</text><text x="961.4" y="401.00" textLength="28" lengthAdjust="spacingAndGlyphs">71.00</text><text x="961.4" y="349.20" textLength="28" lengthAdjust="spacingAndGlyphs">72.00</text><text x="961.4" y="297.40" textLength="28" lengthAdjust="spacingAndGlyphs">73.00</text><text x="961.4" y="245.60" textLength="28" lengthAdjust="spacingAndGlyphs">74.00</text><text x="961.4" y="193.80" textLength="28" lengthAdjust="spacingAndGlyphs">75.00</text><text x="961.4" y="142.00" textLength="28" lengthAdjust="spacingAndGlyphs">76.00</text><text x="961.4" y="90.20" textLength="28" lengthAdjust="spacingAndGlyphs">77.00</text><text x="961.4" y="38.40" textLength="28" lengthAdjust="spacingAndGlyphs">78.00</text></g>
<rect x="954" y="243.4" width="56.5" height="29.1" rx="1.5" fill="#f23645"/>
<g font-size="11.8" class="w"><text x="962.2" y="255.8" textLength="27.6" lengthAdjust="spacingAndGlyphs">73.82</text><text x="962.2" y="268.9" font-size="11.6" textLength="43.2" lengthAdjust="spacingAndGlyphs">02:49:27</text></g>
<rect x="953.8" y="566.2" width="30.2" height="15.7" rx="1.5" fill="#ef5350"/>
<text x="962.2" y="578.3" font-size="11.8" class="w" textLength="16.6" lengthAdjust="spacingAndGlyphs">268</text>
<g font-size="11.6" class="d"><text x="14.60" y="599" text-anchor="middle" textLength="11.4" lengthAdjust="spacingAndGlyphs">19</text><text x="81.29" y="599" text-anchor="middle" textLength="11.4" lengthAdjust="spacingAndGlyphs">21</text><text x="148.58" y="599" text-anchor="middle" textLength="11.4" lengthAdjust="spacingAndGlyphs">25</text><text x="215.88" y="599" text-anchor="middle" textLength="11.4" lengthAdjust="spacingAndGlyphs">27</text><text x="283.57" y="599" text-anchor="middle" font-weight="bold" textLength="19.4" lengthAdjust="spacingAndGlyphs">Mar</text><text x="350.46" y="599" text-anchor="middle" textLength="5.9" lengthAdjust="spacingAndGlyphs">5</text><text x="417.75" y="599" text-anchor="middle" textLength="5.9" lengthAdjust="spacingAndGlyphs">7</text><text x="485.05" y="599" text-anchor="middle" textLength="11.4" lengthAdjust="spacingAndGlyphs">11</text><text x="552.34" y="599" text-anchor="middle" textLength="11.4" lengthAdjust="spacingAndGlyphs">13</text><text x="619.63" y="599" text-anchor="middle" textLength="11.4" lengthAdjust="spacingAndGlyphs">16</text><text x="686.92" y="599" text-anchor="middle" textLength="11.4" lengthAdjust="spacingAndGlyphs">19</text><text x="754.22" y="599" text-anchor="middle" textLength="11.4" lengthAdjust="spacingAndGlyphs">21</text><text x="821.51" y="599" text-anchor="middle" textLength="11.4" lengthAdjust="spacingAndGlyphs">25</text><text x="888.80" y="599" text-anchor="middle" textLength="11.4" lengthAdjust="spacingAndGlyphs">27</text></g>
<g font-size="11.7" class="d"><text x="9.60" y="18.4" textLength="68.20" lengthAdjust="spacingAndGlyphs">angiepanoyan</text><text x="81.90" y="18.4" textLength="47.30" lengthAdjust="spacingAndGlyphs">published</text><text x="133.70" y="18.4" textLength="10.90" lengthAdjust="spacingAndGlyphs">on</text><text x="149.30" y="18.4" textLength="87.80" lengthAdjust="spacingAndGlyphs">TradingView.com,</text><text x="240.90" y="18.4" textLength="17.10" lengthAdjust="spacingAndGlyphs">Mar</text><text x="262.80" y="18.4" textLength="13.60" lengthAdjust="spacingAndGlyphs">27,</text><text x="281.40" y="18.4" textLength="23.20" lengthAdjust="spacingAndGlyphs">2025</text><text x="308.70" y="18.4" textLength="27.40" lengthAdjust="spacingAndGlyphs">05:10</text><text x="339.60" y="18.4" textLength="20.00" lengthAdjust="spacingAndGlyphs">UTC</text></g>
<g font-size="11.7"><text x="17.50" y="44.00" class="d" textLength="23.10" lengthAdjust="spacingAndGlyphs">CFDs</text><text x="44.60" y="44.00" class="d" textLength="12.40" lengthAdjust="spacingAndGlyphs">on</text><text x="60.60" y="44.00" class="d" textLength="25.90" lengthAdjust="spacingAndGlyphs">Brent</text><text x="91.00" y="44.00" class="d" textLength="28.00" lengthAdjust="spacingAndGlyphs">Crude</text><text x="123.10" y="44.00" class="d" textLength="13.80" lengthAdjust="spacingAndGlyphs">Oil</text><text x="141.90" y="44.00" class="d" style="stroke-width:.9px" textLength="2.60" lengthAdjust="spacingAndGlyphs">·</text><text x="148.75" y="44.00" class="d" textLength="11.25" lengthAdjust="spacingAndGlyphs">4h</text><text x="165.20" y="44.00" class="d" style="stroke-width:.9px" textLength="2.40" lengthAdjust="spacingAndGlyphs">·</text><text x="172.50" y="44.00" class="d" textLength="18.50" lengthAdjust="spacingAndGlyphs">TVC</text><text x="198.00" y="44.00" class="d" textLength="7.30" lengthAdjust="spacingAndGlyphs">O</text><text x="205.70" y="44.00" class="r" textLength="27.40" lengthAdjust="spacingAndGlyphs">73.83</text><text x="240.20" y="44.00" class="d" textLength="6.70" lengthAdjust="spacingAndGlyphs">H</text><text x="247.20" y="44.00" class="r" textLength="27.40" lengthAdjust="spacingAndGlyphs">73.88</text><text x="282.30" y="44.00" class="d" textLength="5.30" lengthAdjust="spacingAndGlyphs">L</text><text x="288.00" y="44.00" class="r" textLength="25.70" lengthAdjust="spacingAndGlyphs">73.81</text><text x="321.80" y="44.00" class="d" textLength="6.60" lengthAdjust="spacingAndGlyphs">C</text><text x="328.80" y="44.00" class="r" textLength="26.50" lengthAdjust="spacingAndGlyphs">73.82</text><text x="362.70" y="44.00" class="r" textLength="73.00" lengthAdjust="spacingAndGlyphs">−0.02 (−0.03%)</text><text x="17.50" y="59.30" class="d" textLength="14.40" lengthAdjust="spacingAndGlyphs">Vol</text><text x="39.40" y="59.30" class="v" textLength="17.10" lengthAdjust="spacingAndGlyphs">268</text></g>
<g><circle cx="894.3" cy="569.3" r="9.4" fill="#fff" stroke="#9c27b0" stroke-width="1.4"/><path d="M895.6 564.6 L889.6 570.3 L892.6 570.3 L891 574.6 L897.2 568.2 L894.2 568.2 Z" fill="#9c27b0"/></g>
<g><circle cx="905.6" cy="569.7" r="9.5" fill="#fff" stroke="#f23645" stroke-width="1.6"/><g clip-path="url(#f1)"><rect x="897.1" y="561" width="17" height="18" fill="#fff"/><rect x="897.1" y="561.60" width="17" height="2.90" fill="#ef5350"/><rect x="897.1" y="568.40" width="17" height="3.10" fill="#ef5350"/><rect x="897.1" y="574.30" width="17" height="2.60" fill="#ef5350"/><rect x="898.0" y="561" width="9.1" height="10.5" fill="#1e88e5"/><g fill="#fff" opacity="0.85"><circle cx="899.6" cy="563.6" r="0.6"/><circle cx="899.6" cy="565.8" r="0.6"/><circle cx="899.6" cy="568.0" r="0.6"/><circle cx="899.6" cy="570.2" r="0.6"/><circle cx="902.0" cy="563.6" r="0.6"/><circle cx="902.0" cy="565.8" r="0.6"/><circle cx="902.0" cy="568.0" r="0.6"/><circle cx="902.0" cy="570.2" r="0.6"/><circle cx="904.4" cy="563.6" r="0.6"/><circle cx="904.4" cy="565.8" r="0.6"/><circle cx="904.4" cy="568.0" r="0.6"/><circle cx="904.4" cy="570.2" r="0.6"/></g></g></g>
<g><circle cx="938.9" cy="569.7" r="9.5" fill="#fff" stroke="#f23645" stroke-width="1.6"/><g clip-path="url(#f2)"><rect x="930.4" y="561" width="17" height="18" fill="#fff"/><rect x="930.4" y="561.60" width="17" height="2.90" fill="#ef5350"/><rect x="930.4" y="568.40" width="17" height="3.10" fill="#ef5350"/><rect x="930.4" y="574.30" width="17" height="2.60" fill="#ef5350"/><rect x="931.3" y="561" width="9.1" height="10.5" fill="#1e88e5"/><g fill="#fff" opacity="0.85"><circle cx="932.9" cy="563.6" r="0.6"/><circle cx="932.9" cy="565.8" r="0.6"/><circle cx="932.9" cy="568.0" r="0.6"/><circle cx="932.9" cy="570.2" r="0.6"/><circle cx="935.3" cy="563.6" r="0.6"/><circle cx="935.3" cy="565.8" r="0.6"/><circle cx="935.3" cy="568.0" r="0.6"/><circle cx="935.3" cy="570.2" r="0.6"/><circle cx="937.7" cy="563.6" r="0.6"/><circle cx="937.7" cy="565.8" r="0.6"/><circle cx="937.7" cy="568.0" r="0.6"/><circle cx="937.7" cy="570.2" r="0.6"/></g></g></g>
<g transform="translate(10,618) scale(0.5)" fill="#131722"><path d="M14 22H7V11H0V4h14v18z"/><circle cx="20" cy="8" r="4"/><path d="M28 22h-8l7.5-18h8L28 22z"/></g>
<text x="32.7" y="629" font-size="11.8" class="d" textLength="64.2" lengthAdjust="spacingAndGlyphs">TradingView</text>
</svg></body></html>
